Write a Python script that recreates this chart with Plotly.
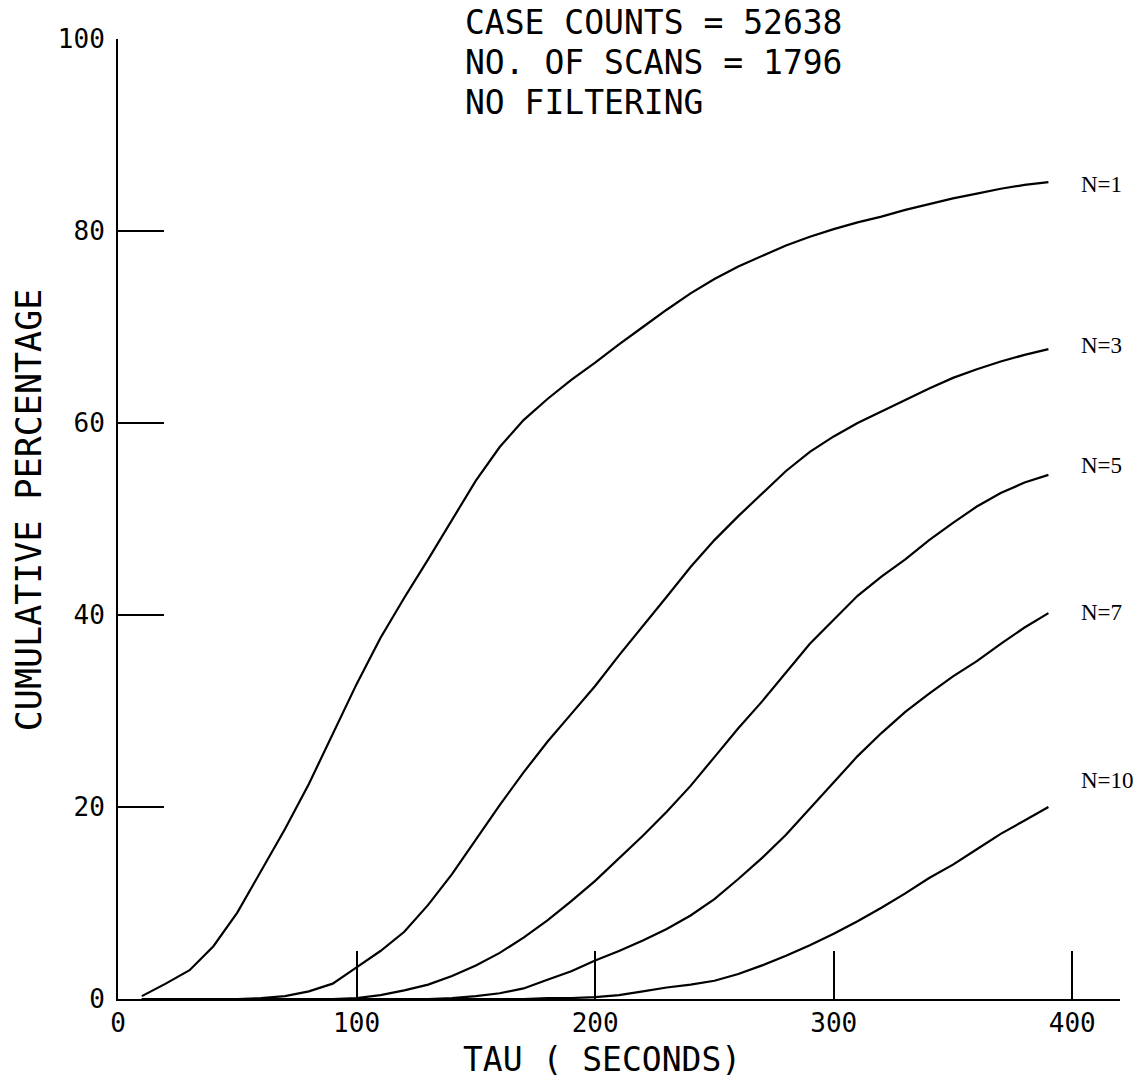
import plotly.graph_objects as go

# ---- data ----
tau = [10, 20, 30, 40, 50, 60, 70, 80, 90, 100, 110, 120, 130, 140, 150, 160, 170, 180, 190, 200,
       210, 220, 230, 240, 250, 260, 270, 280, 290, 300, 310, 320, 330, 340, 350, 360, 370, 380, 390]

n1 = [0.3, 1.6, 3.0, 5.5, 9.0, 13.3, 17.7, 22.4, 27.6, 32.8, 37.6, 41.8, 45.8, 49.9, 54.0, 57.5, 60.3, 62.5, 64.5, 66.3,
      68.2, 70.0, 71.8, 73.5, 75.0, 76.3, 77.4, 78.5, 79.4, 80.2, 80.9, 81.5, 82.2, 82.8, 83.4, 83.9, 84.4, 84.8, 85.1]
n3 = [0.0, 0.0, 0.0, 0.0, 0.0, 0.1, 0.3, 0.8, 1.6, 3.3, 5.0, 7.0, 9.8, 13.0, 16.6, 20.2, 23.6, 26.8, 29.7, 32.6,
      35.8, 38.8, 41.9, 45.0, 47.8, 50.3, 52.6, 55.0, 57.0, 58.6, 60.0, 61.2, 62.4, 63.6, 64.7, 65.6, 66.4, 67.1, 67.7]
n5 = [0.0, 0.0, 0.0, 0.0, 0.0, 0.0, 0.0, 0.0, 0.0, 0.1, 0.4, 0.9, 1.5, 2.4, 3.5, 4.8, 6.4, 8.2, 10.2, 12.3,
      14.6, 17.0, 19.5, 22.2, 25.2, 28.2, 31.0, 34.0, 37.0, 39.5, 42.0, 44.0, 45.8, 47.8, 49.6, 51.3, 52.7, 53.8, 54.6]
n7 = [0.0, 0.0, 0.0, 0.0, 0.0, 0.0, 0.0, 0.0, 0.0, 0.0, 0.0, 0.0, 0.0, 0.1, 0.3, 0.6, 1.1, 2.0, 2.9, 4.0,
      5.0, 6.1, 7.3, 8.7, 10.4, 12.5, 14.7, 17.1, 19.8, 22.6, 25.3, 27.7, 29.9, 31.8, 33.6, 35.2, 37.0, 38.7, 40.2]
n10 = [0.0, 0.0, 0.0, 0.0, 0.0, 0.0, 0.0, 0.0, 0.0, 0.0, 0.0, 0.0, 0.0, 0.0, 0.0, 0.0, 0.0, 0.1, 0.1, 0.2,
       0.4, 0.8, 1.2, 1.5, 1.9, 2.6, 3.5, 4.5, 5.6, 6.8, 8.1, 9.5, 11.0, 12.6, 14.0, 15.6, 17.2, 18.6, 20.0]

series_names = ["N=1", "N=3", "N=5", "N=7", "N=10"]
series_values = [n1, n3, n5, n7, n10]
label_y = [84.8, 68.1, 55.6, 40.3, 22.8]

x_ticks = [0, 100, 200, 300, 400]
y_ticks = [0, 20, 40, 60, 80, 100]

header_lines = ["CASE COUNTS = 52638", "NO. OF SCANS = 1796", "NO FILTERING"]
x_title = "TAU ( SECONDS)"
y_title = "CUMULATIVE PERCENTAGE"

# ---- figure ----
PLOT_FONT = "DejaVu Sans Mono"

fig = go.Figure()
for name, vals in zip(series_names, series_values):
    fig.add_trace(go.Scatter(x=tau, y=vals, mode="lines", name=name,
                             line=dict(color="black", width=2.2), showlegend=False))

for name, vals, ly in zip(series_names, series_values, label_y):
    fig.add_annotation(x=403, y=ly, xref="x", yref="y", text=name, showarrow=False,
                       xanchor="left", yanchor="middle",
                       font=dict(family="Liberation Serif", size=23, color="black"))

for i, line in enumerate(header_lines):
    fig.add_annotation(x=145, y=1.0175 - i * 0.042, xref="x", yref="paper", text=line,
                       showarrow=False, xanchor="left", yanchor="middle", borderpad=0,
                       font=dict(family=PLOT_FONT, size=33, color="black"))

# axis titles placed where the reference shows them
fig.add_annotation(x=203, y=-0.063, xref="x", yref="paper", text=x_title, showarrow=False,
                   xanchor="center", yanchor="middle",
                   font=dict(family=PLOT_FONT, size=33, color="black"))
fig.add_annotation(x=-0.088, y=0.51, xref="paper", yref="paper", text=y_title, showarrow=False,
                   textangle=-90, xanchor="center", yanchor="middle",
                   font=dict(family=PLOT_FONT, size=35, color="black"))

fig.update_layout(
    width=1148, height=1083,
    margin=dict(l=118, r=28, t=39, b=84, autoexpand=False),
    paper_bgcolor="white", plot_bgcolor="white",
    font=dict(family=PLOT_FONT, color="black"),
)
fig.update_xaxes(
    range=[0, 420], showgrid=False, zeroline=False, automargin=False,
    showline=True, linecolor="black", linewidth=2,
    ticks="inside", ticklen=48, tickwidth=2, tickcolor="black",
    tickvals=x_ticks, ticktext=[str(v) for v in x_ticks],
    tickfont=dict(family=PLOT_FONT, size=26),
)
fig.update_yaxes(
    range=[0, 100], showgrid=False, zeroline=False, automargin=False,
    showline=True, linecolor="black", linewidth=2,
    ticks="inside", ticklen=46, tickwidth=2, tickcolor="black",
    tickvals=y_ticks, ticktext=[str(v) for v in y_ticks],
    tickfont=dict(family=PLOT_FONT, size=26), ticklabelstandoff=6,
)

fig.write_html("out.html", config={"displayModeBar": False},
               post_script="document.body.style.margin='0';")
